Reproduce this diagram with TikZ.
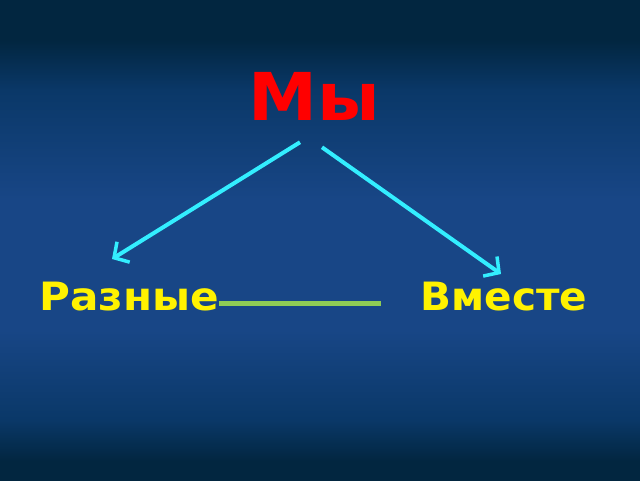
\documentclass[tikz,border=0pt]{standalone}
\usepackage{fontspec}
\setmainfont{DejaVu Sans}
\usetikzlibrary{arrows.meta}
\definecolor{bgdark}{HTML}{022640}
\definecolor{bgmid}{HTML}{0A3868}
\definecolor{bgblue}{HTML}{184686}
\definecolor{arrowcyan}{HTML}{33EEFF}
\definecolor{linegreen}{HTML}{8FCC55}
% the picture fits between 25bp (bottom) and 75bp (top)
\pgfdeclareverticalshading{slide}{100bp}{color(0bp)=(bgdark); color(27bp)=(bgdark); color(31.25bp)=(bgmid); color(40.6bp)=(bgblue); color(54.2bp)=(bgblue); color(65.6bp)=(bgmid); color(70.8bp)=(bgdark); color(100bp)=(bgdark)}
\tikzset{
	word/.style={font=\bfseries\fontsize{39}{42}\selectfont, text=yellow, inner sep=0pt},
	link/.style={arrowcyan, line width=4pt, -{Straight Barb[length=11pt, width=24pt, line width=3.5pt]}}
}
\begin{document}
\begin{tikzpicture}[x=1pt, y=-1pt]
		\shade[shading=slide] (0,0) rectangle (640,480);
		\useasboundingbox (0,0) rectangle (640,480);
		
		\node[font=\bfseries\fontsize{66}{70}\selectfont, text=red, inner sep=0pt] (mu) at (314,96) {\scalebox{1.05}[1]{Мы}};
		\node[word] (raz) at (129,297) {\scalebox{1.08}[1]{Разные}};
		\node[word] (vm) at (504,297) {\scalebox{1.04}[1]{Вместе}};
		
		\coordinate (ltip) at (112,259);
		\coordinate (rtip) at (501,274);
		\coordinate (gend) at (381,303);
		
		\draw[link] ([xshift=-14pt, yshift=-22pt]mu.south) -- (ltip);
		\draw[link] ([xshift=8pt, yshift=-27pt]mu.south) -- (rtip);
		\draw[linegreen, line width=5pt] (raz.east |- gend) -- (gend);
	\end{tikzpicture}
\end{document}
